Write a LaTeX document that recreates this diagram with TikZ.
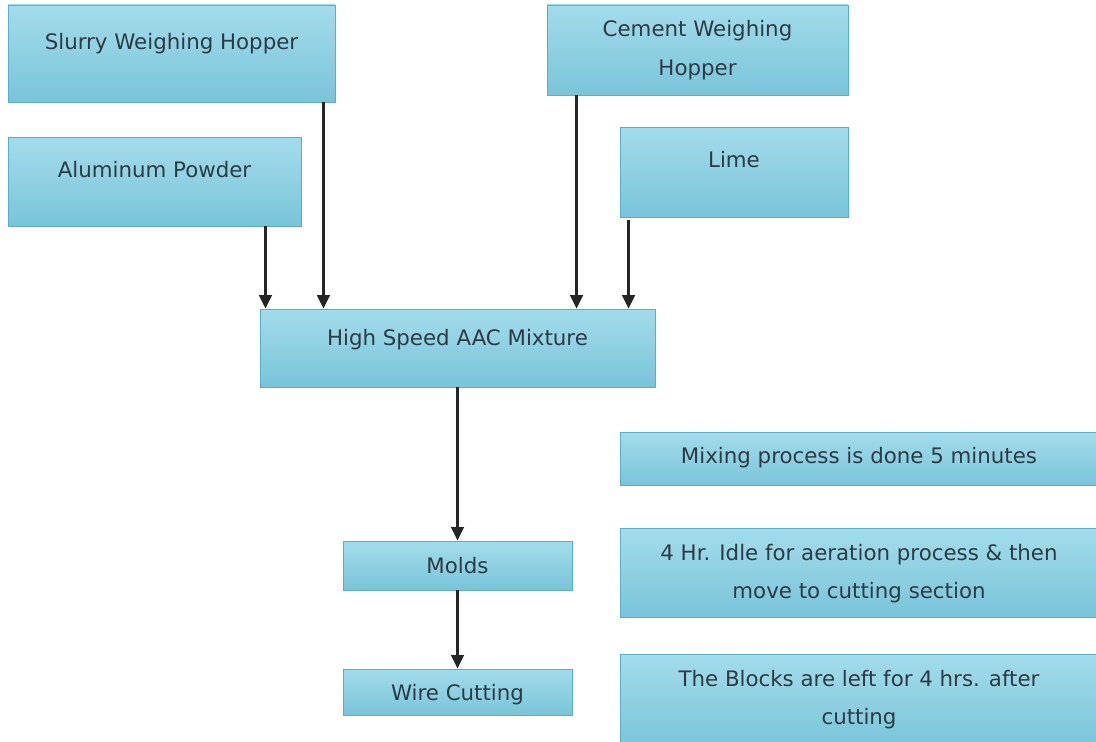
\documentclass[tikz,border=0pt]{standalone}
\usepackage{fontspec}
\setmainfont{DejaVu Sans}
\usetikzlibrary{arrows.meta}
\definecolor{boxtop}{HTML}{A3DCEB}
\definecolor{boxbot}{HTML}{79C4D9}
\definecolor{boxln}{HTML}{58AFC9}
\definecolor{txtc}{HTML}{2B3B44}
\tikzset{
  box/.style={draw=boxln,line width=0.7pt,top color=boxtop,bottom color=boxbot,inner sep=0pt,align=center,text=txtc,font=\fontsize{16}{29}\selectfont},
  arr/.style={-{Triangle[length=10pt,width=9.5pt]},line width=1.6pt,black!85}
}
\begin{document}
\begin{tikzpicture}[x=0.75pt,y=-0.75pt]
\useasboundingbox (0,0) rectangle (1096,742);
\clip (0,0) rectangle (1096,742);
% feed hoppers
\node[box,minimum width=245.25pt,text height=33.75pt,text depth=39pt] (slurry) at (171.5,53.5) {Slurry Weighing Hopper};
\node[box,minimum width=219.75pt,text height=30pt,text depth=36.75pt] (alum) at (154.5,181.5) {Aluminum Powder};
\node[box,minimum width=225.75pt,text height=53pt,text depth=14.5pt] (cement) at (697.5,50) {Cement Weighing\\Hopper};
\node[box,minimum width=171pt,text height=30pt,text depth=37.5pt] (lime) at (734,172) {Lime};
% main line
\node[box,minimum width=296.25pt,text height=27pt,text depth=31.5pt] (mix) at (457.5,348) {High Speed AAC Mixture};
\node[box,minimum width=171.75pt,text height=24pt,text depth=12.75pt] (molds) at (457.5,565.5) {Molds};
\node[box,minimum width=171.75pt,text height=23.25pt,text depth=11.25pt] (wire) at (457.5,692) {Wire Cutting};
% notes
\node[box,minimum width=358.5pt,text height=23.25pt,text depth=16.5pt] (note1) at (859,458.5) {Mixing process is done 5 minutes};
\node[box,minimum width=358.5pt,text height=53pt,text depth=13.75pt] (note2) at (859,572.5) {4 Hr. Idle for aeration process \& then\\move to cutting section};
\node[box,minimum width=358.5pt,text height=53pt,text depth=17.5pt] (note3) at (859,701) {The Blocks are left for 4 hrs. after\\cutting};
% arrows into the mixer
\foreach \src/\dx/\dy in {alum.south east/-27pt/0pt,slurry.south east/-9pt/0pt,cement.south west/22.5pt/0pt,lime.south west/6.75pt/-2pt}
  \draw[arr] ([xshift=\dx,yshift=\dy]\src) coordinate (s) -- (s |- mix.north);
\draw[arr] (mix) -- (molds);
\draw[arr] (molds) -- (wire);
\end{tikzpicture}
\end{document}
